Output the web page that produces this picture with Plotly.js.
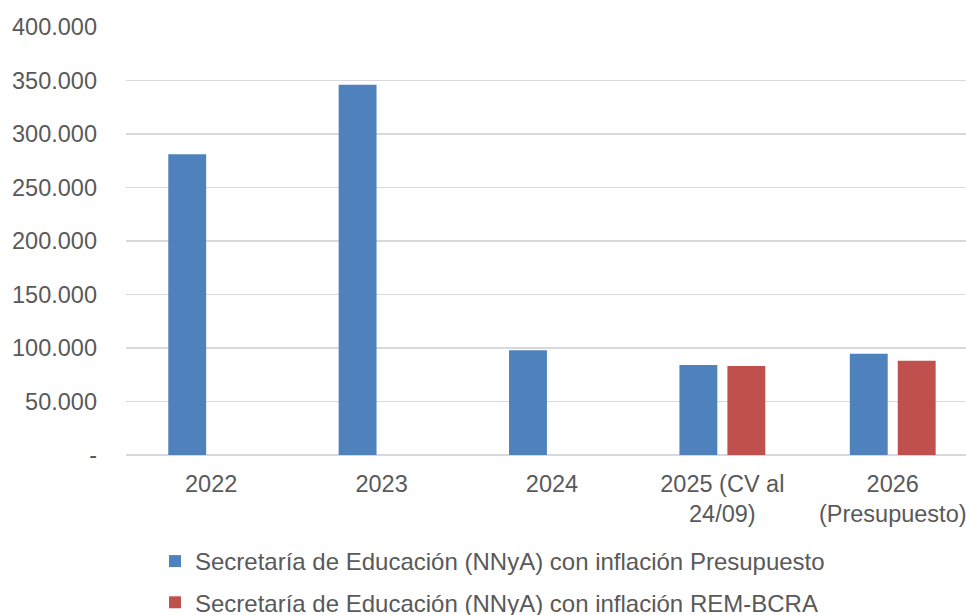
<!DOCTYPE html>
<html>
<head>
<meta charset="utf-8">
<script src="https://cdn.plot.ly/plotly-3.0.1.min.js"></script>
<style>
html,body{margin:0;padding:0;background:#fff;}
#chart{width:966px;height:615px;}
</style>
</head>
<body>
<div id="chart"></div>
<script>
const categories = ["2022", "2023", "2024", "2025 (CV al<br>24/09)", "2026<br>(Presupuesto)"];
const seriesPresupuesto = [281000, 346000, 98000, 84000, 94700];
const seriesREM = [null, null, null, 83200, 88100];
const seriesNames = ["Secretaría de Educación (NNyA) con inflación Presupuesto", "Secretaría de Educación (NNyA) con inflación REM-BCRA"];
const yTickVals = [0, 50000, 100000, 150000, 200000, 250000, 300000, 350000, 400000];
const yTickText = ["-", "50.000", "100.000", "150.000", "200.000", "250.000", "300.000", "350.000", "400.000"];

const font = {family: "Liberation Sans, Arial, sans-serif", size: 23.5, color: "#595959"};

const data = [
  {type: "bar", x: categories, y: seriesPresupuesto, name: seriesNames[0], legendgroup: "a",
   marker: {color: "#4F81BD"}},
  {type: "bar", x: categories, y: seriesREM, name: seriesNames[1], legendgroup: "b",
   marker: {color: "#C0504D"}}
];

const layout = {
  width: 966, height: 615,
  margin: {l: 126, r: 0, t: 27, b: 160},
  paper_bgcolor: "#fff", plot_bgcolor: "#fff",
  font: font,
  barmode: "group", bargap: 0.437, bargroupgap: 0.21,
  showlegend: true,
  legend: {orientation: "v", x: 0.0345, xanchor: "left", yref: "container", y: 0.1236, yanchor: "top",
           font: {family: font.family, size: 24, color: "#595959"},
           traceorder: "grouped", tracegroupgap: 7, itemwidth: 30},
  xaxis: {type: "category", range: [-0.5, 4.43], showgrid: false, showline: false, zeroline: false,
          ticks: "", tickfont: font, automargin: false, ticklabelstandoff: 12},
  yaxis: {range: [0, 400000], tickvals: yTickVals, ticktext: yTickText, showgrid: true,
          gridcolor: "#D9D9D9", gridwidth: 1.5, zeroline: true, zerolinecolor: "#D9D9D9", zerolinewidth: 1.5,
          showline: false, ticks: "", ticklen: 0, tickfont: font, automargin: false, ticklabelstandoff: 28}
};

Plotly.newPlot("chart", data, layout, {displayModeBar: false, staticPlot: true});
</script>
</body>
</html>
